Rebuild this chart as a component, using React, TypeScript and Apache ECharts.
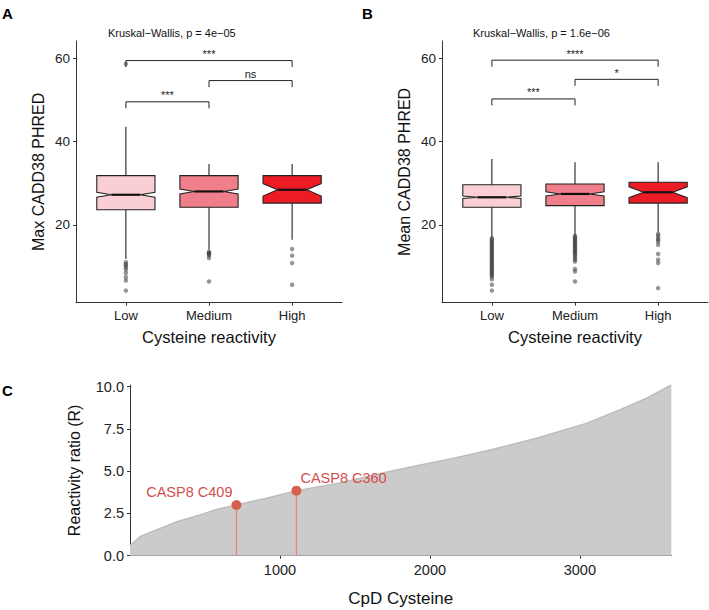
import React, { useEffect, useRef } from 'react';
import * as echarts from 'echarts';

const categories = ['Low', 'Medium', 'High'];

// [lowerWhisker, q1, median, q3, upperWhisker, notchLower, notchUpper]
const maxCaddStats = [
  [11.8, 23.6, 27.2, 31.8, 43.5, 26.6, 27.8],
  [14.0, 24.2, 28.0, 31.8, 34.6, 27.4, 28.6],
  [16.4, 25.2, 28.4, 31.8, 34.6, 26.9, 29.9],
];
const meanCaddStats = [
  [17.0, 24.2, 26.6, 29.6, 35.8, 26.3, 26.9],
  [17.4, 24.6, 27.4, 29.8, 35.0, 26.9, 27.9],
  [18.2, 25.2, 27.8, 30.2, 35.0, 26.5, 29.1],
];

const maxCaddOutliers = [
  [58.6, 11.0, 10.6, 10.2, 9.8, 9.2, 8.4, 7.4, 6.6, 4.2],
  [13.5, 13.3, 13.1, 12.9, 12.6, 12.0, 6.4],
  [14.2, 12.6, 10.8, 5.6],
];
const meanCaddOutliers = [
  [16.8, 16.5, 16.2, 15.9, 15.6, 15.3, 15.0, 14.7, 14.4, 14.1, 13.8, 13.5, 13.2, 12.9, 12.6, 12.3, 12.0, 11.7, 11.4, 11.1, 10.8, 10.5, 10.2, 9.9, 9.6, 9.3, 9.0, 8.7, 8.4, 8.1, 7.8, 7.5, 6.9, 5.6, 4.2],
  [17.3, 17.0, 16.7, 16.4, 16.1, 15.8, 15.5, 15.2, 14.9, 14.6, 14.3, 14.0, 13.7, 13.4, 13.1, 12.8, 12.4, 12.0, 11.6, 11.2, 9.4, 8.8, 6.4],
  [17.8, 17.4, 16.8, 16.4, 16.0, 15.2, 13.0, 11.6, 10.8, 4.8],
];

// [fromGroup, toGroup, y]
const maxBrackets = [
  [1, 3, 59.4],
  [2, 3, 54.6],
  [1, 2, 49.5],
];
const maxBracketLabels = ['***', 'ns', '***'];
const meanBrackets = [
  [1, 3, 59.5],
  [2, 3, 54.9],
  [1, 2, 50.2],
];
const meanBracketLabels = ['****', '*', '***'];

const boxTicks = [20, 40, 60];

const cpdX = [0, 66, 133, 244, 311, 466, 577, 710, 910, 1110, 1400, 1715, 1937, 2159, 2424, 2711, 3043, 3265, 3442, 3610];
const cpdY = [0.6, 1.12, 1.38, 1.76, 2.01, 2.41, 2.74, 3.0, 3.4, 3.85, 4.3, 4.95, 5.37, 5.76, 6.3, 6.95, 7.83, 8.62, 9.31, 10.1];
const caspLabels = ['CASP8 C409', 'CASP8 C360'];
const caspX = [710, 1110];
const caspY = [3.0, 3.85];
const cpdXTicks = [1000, 2000, 3000];
const cpdYTicks = [0, 2.5, 5, 7.5, 10];

const FONT = '"Liberation Sans", Arial, Helvetica, sans-serif';
const boxColors = ['#f9cfd3', '#f17f8b', '#ed1c24'];
const BOX_W = 0.7;

function boxRender(params: any, api: any) {
  const x = api.value(0);
  const wl = api.value(1), q1 = api.value(2), med = api.value(3), q3 = api.value(4), wh = api.value(5);
  const nl = api.value(6), nu = api.value(7);
  const hw = BOX_W / 2;
  const ind = BOX_W * 0.25;
  const P = (xx: number, yy: number) => api.coord([xx, yy]);
  const poly = [
    P(x - hw, q3), P(x - hw, nu), P(x - hw + ind, med), P(x - hw, nl), P(x - hw, q1),
    P(x + hw, q1), P(x + hw, nl), P(x + hw - ind, med), P(x + hw, nu), P(x + hw, q3),
  ];
  const lineStyle = { stroke: '#222', lineWidth: 1.1 };
  const a = P(x, q3), b = P(x, wh), c = P(x, q1), d = P(x, wl);
  const m1 = P(x - hw + ind, med), m2 = P(x + hw - ind, med);
  return {
    type: 'group',
    children: [
      { type: 'line', shape: { x1: a[0], y1: a[1], x2: b[0], y2: b[1] }, style: lineStyle },
      { type: 'line', shape: { x1: c[0], y1: c[1], x2: d[0], y2: d[1] }, style: lineStyle },
      { type: 'polygon', shape: { points: poly }, style: { fill: boxColors[params.dataIndex], stroke: '#222', lineWidth: 1.1 } },
      { type: 'line', shape: { x1: m1[0], y1: m1[1], x2: m2[0], y2: m2[1] }, style: { stroke: '#111', lineWidth: 2.2 } },
    ],
  };
}

function bracketRender(labels: string[]) {
  return (params: any, api: any) => {
    const a = api.coord([api.value(0), api.value(2)]);
    const b = api.coord([api.value(1), api.value(2)]);
    const tip = 6.5;
    return {
      type: 'group',
      children: [
        {
          type: 'polyline',
          shape: { points: [[a[0], a[1] + tip], [a[0], a[1]], [b[0], b[1]], [b[0], b[1] + tip]] },
          style: { stroke: '#222', lineWidth: 1, fill: null },
        },
        {
          type: 'text',
          style: {
            text: labels[params.dataIndex], x: (a[0] + b[0]) / 2, y: a[1] - 1,
            align: 'center', verticalAlign: 'bottom', fontSize: 11, fill: '#222', fontFamily: FONT,
          },
        },
      ],
    };
  };
}

function boxXAxis(gridIndex: number) {
  return {
    gridIndex, type: 'value', min: 0.4, max: 3.6,
    axisLine: { show: true, lineStyle: { color: '#333', width: 1 } },
    axisTick: { show: true, length: 3, customValues: [1, 2, 3], lineStyle: { color: '#333' } },
    axisLabel: {
      customValues: [1, 2, 3], formatter: (v: number) => categories[Math.round(v) - 1] || '',
      margin: 6, fontSize: 13, color: '#222', fontFamily: FONT,
    },
    splitLine: { show: false },
    name: 'Cysteine reactivity', nameLocation: 'middle', nameGap: 26,
    nameTextStyle: { fontSize: 16.5, color: '#111', fontFamily: FONT },
  };
}

function boxYAxis(gridIndex: number, name: string) {
  return {
    gridIndex, type: 'value', min: 1.3, max: 64.1,
    axisLine: { show: true, lineStyle: { color: '#333', width: 1 } },
    axisTick: { show: true, length: 3, customValues: boxTicks, lineStyle: { color: '#333' } },
    axisLabel: { customValues: boxTicks, margin: 6, fontSize: 13.5, color: '#222', fontFamily: FONT },
    splitLine: { show: false },
    name, nameLocation: 'middle', nameGap: 30,
    nameTextStyle: { fontSize: 16, color: '#111', fontFamily: FONT },
  };
}

function outlierData(groups: number[][]) {
  const out: number[][] = [];
  groups.forEach((g, i) => g.forEach((v) => out.push([i + 1, v])));
  return out;
}

export default function App() {
  const ref = useRef<HTMLDivElement>(null);
  useEffect(() => {
    if (!ref.current) return;
    const chart = echarts.init(ref.current, null, { renderer: 'svg' });
    const option: any = {
      animation: false,
      backgroundColor: '#ffffff',
      textStyle: { fontFamily: FONT },
      grid: [
        { left: 76, top: 41, width: 266, height: 261.7 },
        { left: 442, top: 41, width: 266, height: 261.7 },
        { left: 130, top: 385, width: 541.3, height: 170.7 },
      ],
      xAxis: [
        boxXAxis(0),
        boxXAxis(1),
        {
          gridIndex: 2, type: 'value', min: 0, max: 3610,
          axisLine: { show: true, lineStyle: { color: '#333', width: 1 } },
          axisTick: { show: true, length: 3, customValues: cpdXTicks, lineStyle: { color: '#333' } },
          axisLabel: {
            customValues: cpdXTicks, formatter: (v: number) => String(v),
            margin: 7, fontSize: 14.5, color: '#222', fontFamily: FONT,
          },
          splitLine: { show: false },
          name: 'CpD Cysteine', nameLocation: 'middle', nameGap: 34,
          nameTextStyle: { fontSize: 17, color: '#111', fontFamily: FONT },
        },
      ],
      yAxis: [
        boxYAxis(0, 'Max CADD38 PHRED'),
        boxYAxis(1, 'Mean CADD38 PHRED'),
        {
          gridIndex: 2, type: 'value', min: 0, max: 10.1,
          axisLine: { show: true, lineStyle: { color: '#333', width: 1 } },
          axisTick: { show: true, length: 3, customValues: cpdYTicks, lineStyle: { color: '#333' } },
          axisLabel: {
            customValues: cpdYTicks, formatter: (v: number) => v.toFixed(1),
            margin: 6, fontSize: 14.5, color: '#222', fontFamily: FONT,
          },
          splitLine: { show: false },
          name: 'Reactivity ratio (R)', nameLocation: 'middle', nameGap: 48,
          nameTextStyle: { fontSize: 16, color: '#111', fontFamily: FONT },
        },
      ],
      graphic: [
        { type: 'text', left: 2, top: 6, style: { text: 'A', fontSize: 15, fontWeight: 'bold', fill: '#000', fontFamily: FONT } },
        { type: 'text', left: 362, top: 6, style: { text: 'B', fontSize: 15, fontWeight: 'bold', fill: '#000', fontFamily: FONT } },
        { type: 'text', left: 2, top: 383, style: { text: 'C', fontSize: 15, fontWeight: 'bold', fill: '#000', fontFamily: FONT } },
        { type: 'text', left: 108, top: 27, style: { text: 'Kruskal\u2212Wallis, p = 4e\u221205', fontSize: 11, fill: '#111', fontFamily: FONT } },
        { type: 'text', left: 473, top: 27, style: { text: 'Kruskal\u2212Wallis, p = 1.6e\u221206', fontSize: 11, fill: '#111', fontFamily: FONT } },
      ],
      series: [
        {
          type: 'scatter', xAxisIndex: 0, yAxisIndex: 0, data: outlierData(maxCaddOutliers),
          symbolSize: 4.5, itemStyle: { color: 'rgba(64,64,64,0.55)', opacity: 1 }, z: 1,
        },
        {
          type: 'custom', xAxisIndex: 0, yAxisIndex: 0, renderItem: boxRender,
          data: maxCaddStats.map((s, i) => [i + 1, ...s]), encode: { x: 0, y: [1, 2, 3, 4, 5] }, z: 2,
        },
        {
          type: 'custom', xAxisIndex: 0, yAxisIndex: 0, renderItem: bracketRender(maxBracketLabels),
          data: maxBrackets, encode: { x: [0, 1], y: 2 }, z: 3,
        },
        {
          type: 'scatter', xAxisIndex: 1, yAxisIndex: 1, data: outlierData(meanCaddOutliers),
          symbolSize: 4.5, itemStyle: { color: 'rgba(64,64,64,0.55)', opacity: 1 }, z: 1,
        },
        {
          type: 'custom', xAxisIndex: 1, yAxisIndex: 1, renderItem: boxRender,
          data: meanCaddStats.map((s, i) => [i + 1, ...s]), encode: { x: 0, y: [1, 2, 3, 4, 5] }, z: 2,
        },
        {
          type: 'custom', xAxisIndex: 1, yAxisIndex: 1, renderItem: bracketRender(meanBracketLabels),
          data: meanBrackets, encode: { x: [0, 1], y: 2 }, z: 3,
        },
        {
          type: 'line', xAxisIndex: 2, yAxisIndex: 2, data: cpdX.map((x, i) => [x, cpdY[i]]),
          symbol: 'none', smooth: false,
          lineStyle: { color: '#bdbdbd', width: 1.5 }, areaStyle: { color: '#cbcbcb', opacity: 1 }, z: 1,
        },
        {
          type: 'custom', xAxisIndex: 2, yAxisIndex: 2,
          renderItem: (params: any, api: any) => {
            const top = api.coord([api.value(0), api.value(1)]);
            const bot = api.coord([api.value(0), 0]);
            return { type: 'line', shape: { x1: bot[0], y1: bot[1], x2: top[0], y2: top[1] }, style: { stroke: '#e88a76', lineWidth: 1.3 } };
          },
          data: caspX.map((x, i) => [x, caspY[i]]), z: 2,
        },
        {
          type: 'scatter', xAxisIndex: 2, yAxisIndex: 2, symbolSize: 10,
          itemStyle: { color: '#d6604d', opacity: 1 }, z: 3,
          data: caspX.map((x, i) => ({
            value: [x, caspY[i]],
            label: {
              show: true, formatter: caspLabels[i], position: 'inside',
              align: i === 0 ? 'right' : 'left', verticalAlign: 'middle',
              offset: i === 0 ? [-4, -13] : [4, -13],
              fontSize: 14.5, color: '#d24f4c', opacity: 1, fontFamily: FONT,
            },
          })),
        },
      ],
    };
    chart.setOption(option);
    return () => chart.dispose();
  }, []);
  return <div ref={ref} style={{ position: 'absolute', left: 0, top: 0, width: 709, height: 610 }} />;
}
